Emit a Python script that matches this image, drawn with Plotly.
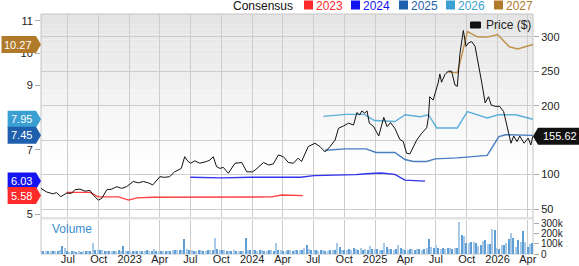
import plotly.graph_objects as go
import pandas as pd

# ---------------- data ----------------
price_dates = ["2022-04-12","2022-04-28","2022-05-18","2022-05-28","2022-06-10","2022-06-27","2022-07-12","2022-07-22",
 "2022-08-06","2022-08-21","2022-09-05","2022-09-15","2022-09-30","2022-10-10","2022-10-25","2022-11-09","2022-11-24",
 "2022-12-08","2022-12-23","2023-01-12","2023-01-27","2023-02-11","2023-02-26","2023-03-11","2023-04-01","2023-04-15",
 "2023-04-30","2023-05-15","2023-06-04","2023-06-14","2023-06-24","2023-07-02","2023-07-14","2023-07-29","2023-08-18",
 "2023-08-28","2023-09-07","2023-09-17","2023-09-27","2023-10-07","2023-10-22","2023-11-11","2023-12-01","2023-12-16",
 "2024-01-02","2024-01-10","2024-02-04","2024-02-19","2024-03-04","2024-03-19","2024-04-03","2024-04-18","2024-05-03",
 "2024-05-17","2024-05-27","2024-06-16","2024-07-06","2024-07-21","2024-08-05","2024-08-20","2024-09-04","2024-09-14",
 "2024-09-29","2024-10-14","2024-10-29","2024-11-08","2024-11-16","2024-11-23","2024-12-01","2024-12-08","2024-12-15",
 "2024-12-28","2025-01-12","2025-01-27","2025-02-06","2025-02-16","2025-03-01","2025-03-16","2025-03-26","2025-04-05",
 "2025-04-15","2025-04-25","2025-05-05","2025-05-20","2025-06-04","2025-06-09","2025-06-13","2025-06-23","2025-07-08",
 "2025-07-13","2025-07-18","2025-07-28","2025-08-07","2025-08-17","2025-08-27","2025-09-03","2025-09-11","2025-09-21",
 "2025-09-29","2025-10-06","2025-10-16","2025-10-26","2025-11-05","2025-11-15","2025-11-25","2025-12-05","2025-12-13",
 "2025-12-25","2026-01-07","2026-01-19","2026-02-03","2026-02-10","2026-02-18","2026-02-28","2026-03-08","2026-03-21",
 "2026-04-02","2026-04-10","2026-04-16"]
price_vals = [80,75,72,74,68,73,73,78,79,76,77,70,63,65.5,78,79,82.5,80,82.5,90,88,90,88,85,97,96,97,104,109,126,119,
 116.5,120,116.5,119,121,126,111.5,109,110.5,102,116.5,117.5,104,104,106.7,117.5,114,115.5,128.5,126,117.5,116.5,124,
 119,140.6,145.5,140.6,133,140.6,150,167,170.6,174.6,172,190,186.6,192.5,189,192.5,174.6,169.6,156,183,169.6,175.5,
 167,151,148,131,130,140.6,150,160,168,183,213,208,233,246,234,245,250,250,230,228,276,309,286,291,293,286,262,233,
 204,213,201,199,199,191.5,160,145.5,156,148,156,145.5,153,143,155.62]

eps2023_dates = ["2022-06-27","2022-09-05","2022-09-30","2022-11-29","2022-12-29","2023-01-23","2023-03-11","2023-09-30",
 "2023-12-29","2024-02-28","2024-03-29","2024-05-31"]
eps2023_vals = [5.68,5.68,5.54,5.54,5.44,5.51,5.53,5.53,5.54,5.54,5.60,5.58]

eps2024_dates = ["2023-07-01","2023-09-30","2023-12-29","2024-05-24","2024-07-03","2024-10-06","2024-11-05","2024-12-05",
 "2025-01-19","2025-03-01","2025-03-31","2025-05-30"]
eps2024_vals = [6.15,6.13,6.15,6.15,6.20,6.21,6.23,6.26,6.28,6.24,6.06,6.03]

eps2025_dates = ["2024-08-05","2024-10-06","2024-12-05","2025-01-04","2025-03-01","2025-03-31","2025-04-25","2025-06-04",
 "2025-06-29","2025-09-03","2025-12-01","2026-01-05","2026-01-25","2026-04-16"]
eps2025_vals = [6.99,7.03,7.03,6.92,6.92,6.70,6.64,6.64,6.72,6.75,6.83,7.41,7.47,7.45]

eps2026_dates = ["2024-07-31","2024-10-06","2024-11-30","2024-12-30","2025-03-01","2025-04-01","2025-05-15","2025-06-09",
 "2025-07-04","2025-09-03","2025-10-03","2025-12-01","2026-01-03","2026-02-24","2026-04-16"]
eps2026_vals = [8.04,8.10,8.10,7.91,7.88,8.09,8.03,8.09,7.68,7.68,8.19,7.99,8.09,8.09,7.95]

eps2027_dates = ["2025-08-02","2025-09-03","2025-09-18","2025-10-03","2025-11-02","2025-12-01","2026-01-01","2026-02-05",
 "2026-03-02","2026-04-16"]
eps2027_vals = [9.42,9.39,10.0,10.67,10.51,10.50,10.58,10.20,10.13,10.27]

volume_start = "2022-04-13"
volume_vals = [32,35,30,38,33,36,31,34,40,87,
 60,30,28,32,30,29,31,28,33,30,
 35,32,107,45,40,42,48,38,36,35,
 33,30,34,45,38,78,35,30,32,34,
 33,30,32,31,36,42,35,34,55,38,
 36,34,33,35,38,36,40,45,40,45,
 42,155,55,40,45,38,36,40,42,38,
 36,40,45,42,165,50,45,40,42,38,
 36,38,40,35,33,30,38,165,45,40,
 42,45,38,40,42,36,38,40,42,38,
 116,45,40,38,36,40,42,38,45,40,
 42,48,60,97,50,45,42,40,38,45,
 40,38,36,42,40,45,116,75,45,42,
 48,55,45,65,50,45,60,48,52,45,
 78,55,50,52,48,45,113,75,55,50,
 48,52,90,60,55,48,45,50,52,48,
 55,50,48,52,60,150,70,65,97,60,
 55,60,58,62,60,58,62,65,315,185,
 180,107,110,126,126,110,87,95,133,136,
 103,100,249,242,65,55,94,97,113,152,
 210,162,71,139,126,233,120,71,103,113]  # thousands

quarter_ticks = ["2022-07-01","2022-10-01","2023-01-01","2023-04-01","2023-07-01","2023-10-01","2024-01-01",
 "2024-04-01","2024-07-01","2024-10-01","2025-01-01","2025-04-01","2025-07-01","2025-10-01","2026-01-01","2026-04-01"]
quarter_labels = ["Jul","Oct","2023","Apr","Jul","Oct","2024","Apr","Jul","Oct","2025","Apr","Jul","Oct","2026","Apr"]

price_ticks = [50,100,150,200,250,300]
price_tick_labels = ["50","100","","200","250","300"]   # 150 sits under the price badge
eps_ticks = [5,6,7,8,9,10,11]
eps_tick_labels = ["5","","7","","9","10","11"]          # 6 and 8 sit under badges
volume_ticks = [0,100,200,300]
volume_labels = ["0","100k","200k","300k"]

series_names = ["2023","2024","2025","2026","2027"]
series_colors = ["#ff2020","#1010ee","#2a68b6","#40a4d6","#b8822e"]
badge_colors = ["#ff2a2a","#1414f0","#1f60ae","#3a9fd2","#b07a2a"]

# ---------------- layout geometry ----------------
W, H = 579, 266
ML, MR, MT, MB = 41, 46, 14, 12
PW, PH = W - ML - MR, H - MT - MB
def px(x): return (x - ML) / PW
def py(y): return (H - MB - y) / PH

FONT = "Liberation Sans, Arial, sans-serif"
GRID = "#cdcdcd"

fig = go.Figure()

eps_sets = [(eps2023_dates, eps2023_vals), (eps2024_dates, eps2024_vals), (eps2025_dates, eps2025_vals),
            (eps2026_dates, eps2026_vals), (eps2027_dates, eps2027_vals)]
for (d, v), name, col in zip(eps_sets, series_names, series_colors):
    fig.add_trace(go.Scatter(x=d, y=v, mode="lines", name=name, line=dict(color=col, width=1.4),
                             opacity=0.85, xaxis="x", yaxis="y", showlegend=False, hoverinfo="skip"))

fig.add_trace(go.Scatter(x=price_dates, y=price_vals, mode="lines", name="Price ($)",
                         line=dict(color="#111111", width=1), xaxis="x", yaxis="y2", showlegend=False))

vol_dates = pd.date_range(volume_start, periods=len(volume_vals), freq="7D")
vol_colors = ["#a9c9e8" if i % 2 == 0 else "#5f9fd6" for i in range(len(volume_vals))]
fig.add_trace(go.Bar(x=vol_dates, y=[v * 1000 for v in volume_vals], marker=dict(color=vol_colors, line=dict(width=0)),
                     width=4.2 * 86400000, xaxis="x2", yaxis="y3", showlegend=False))
# carrier for the date-label axis
fig.add_trace(go.Scatter(x=[], y=[], xaxis="x3", yaxis="y3", showlegend=False, hoverinfo="skip"))

xr = ["2022-04-12", "2026-04-16 12:00"]
tickfont = dict(family=FONT, size=11, color="#222222")
voltickfont = dict(family=FONT, size=10, color="#222222")

fig.update_layout(
    width=W, height=H, margin=dict(l=ML, r=MR, t=MT, b=MB),
    paper_bgcolor="white", plot_bgcolor="rgba(0,0,0,0)", showlegend=False, bargap=0,
    xaxis=dict(domain=[0, 1], anchor="y", range=xr, type="date", tickvals=quarter_ticks, showticklabels=False,
               showgrid=True, gridcolor=GRID, gridwidth=1, ticks="", zeroline=False, showline=False),
    xaxis2=dict(domain=[0, 1], anchor="y3", range=xr, type="date", tickvals=quarter_ticks,
                showticklabels=False, showgrid=True, gridcolor=GRID, ticks="",
                showline=False, zeroline=False, automargin=False),
    xaxis3=dict(overlaying="x2", anchor="free", position=py(251), range=xr, type="date", tickvals=quarter_ticks,
                ticktext=quarter_labels, showgrid=False, ticks="", tickfont=tickfont,
                showline=False, zeroline=False, automargin=False),
    yaxis=dict(domain=[py(217), 1], range=[4.916, 11.217], tickvals=eps_ticks, ticktext=eps_tick_labels,
               ticks="outside", ticklen=5, tickcolor="#aaaaaa", showgrid=False, zeroline=False,
               tickfont=tickfont, automargin=False),
    yaxis2=dict(overlaying="y", side="right", anchor="x", range=[38.5, 333], tickvals=price_ticks,
                ticktext=price_tick_labels, ticks="outside", ticklen=5, tickcolor="#aaaaaa", showgrid=True,
                gridcolor=GRID, zeroline=False, tickfont=tickfont, automargin=False),
    yaxis3=dict(domain=[0, py(219.5)], anchor="x2", side="right", range=[0, 335000],
                tickvals=[t * 1000 for t in volume_ticks], ticktext=volume_labels, ticks="outside", ticklen=5,
                tickcolor="#aaaaaa", showgrid=False, zeroline=False, tickfont=voltickfont, automargin=False),
)

shapes = []
# gradient background of main panel
N = 40
y_top, y_bot = 14, 217
for i in range(N):
    t = i / (N - 1)
    g = int(round(228 + (255 - 228) * min(1.0, t / 0.75)))
    ya = y_top + (y_bot - y_top) * i / N
    yb = y_top + (y_bot - y_top) * (i + 1) / N
    shapes.append(dict(type="rect", xref="paper", yref="paper", x0=0, x1=1, y0=py(yb), y1=py(ya),
                       fillcolor=f"rgb({g},{g},{g})", line=dict(width=0), layer="below"))
# separator band
shapes.append(dict(type="rect", xref="paper", yref="paper", x0=0, x1=1, y0=py(219.5), y1=py(217),
                   fillcolor="#e2e2e2", line=dict(width=0), layer="below"))
# frame
shapes.append(dict(type="rect", xref="paper", yref="paper", x0=0, x1=1, y0=0, y1=1,
                   line=dict(color="#c4c4c4", width=1), fillcolor="rgba(0,0,0,0)", layer="below"))

annotations = []
# left badges
for (d, v), col in zip(reversed(eps_sets), list(reversed(badge_colors))):
    last = v[-1]
    txt = f"{last:.2f}"
    tw = sum(3.06 if c == "." else 6.12 for c in txt)
    Wb = 8 + tw + 4
    path = f"M 0,0 L -5,8.5 L {-Wb:.1f},8.5 L {-Wb:.1f},-8.5 L -5,-8.5 Z"
    shapes.append(dict(type="path", xref="paper", yref="y", xsizemode="pixel", ysizemode="pixel",
                       xanchor=0, yanchor=last, path=path, fillcolor=col, line=dict(width=0), layer="above"))
    annotations.append(dict(x=0, xref="paper", y=last, yref="y", text=txt, showarrow=False, xanchor="right",
                            xshift=-7, yanchor="middle", font=dict(family=FONT, size=11, color="white")))
# right price badge
plast = price_vals[-1]
shapes.append(dict(type="path", xref="paper", yref="y2", xsizemode="pixel", ysizemode="pixel",
                   xanchor=1, yanchor=plast, path="M 0,0 L 5,8.5 L 60,8.5 L 60,-8.5 L 5,-8.5 Z",
                   fillcolor="#111111", line=dict(width=0), layer="above"))
annotations.append(dict(x=1, xref="paper", y=plast, yref="y2", text=f"{plast:.2f}", showarrow=False,
                        xanchor="left", xshift=8, yanchor="middle", font=dict(family=FONT, size=11, color="white")))

# top legend
annotations.append(dict(x=px(230.5), xref="paper", y=py(5.5), yref="paper", text="Consensus", showarrow=False,
                        xanchor="left", yanchor="middle", font=dict(family=FONT, size=12, color="#111111")))
sq_x = [304, 351, 399, 446, 494]
for name, col, sx in zip(series_names, badge_colors, sq_x):
    shapes.append(dict(type="rect", xref="paper", yref="paper", x0=px(sx), x1=px(sx + 9), y0=py(9.5), y1=py(0.5),
                       fillcolor=col, line=dict(width=0)))
    annotations.append(dict(x=px(sx + 10), xref="paper", y=py(5.5), yref="paper", text=name, showarrow=False,
                            xanchor="left", yanchor="middle", font=dict(family=FONT, size=12, color=col)))
# price legend
shapes.append(dict(type="rect", xref="paper", yref="paper", x0=px(470.5), x1=px(480.5), y0=py(28), y1=py(22),
                   fillcolor="#111111", line=dict(color="#111111", width=1)))
annotations.append(dict(x=px(484), xref="paper", y=py(25), yref="paper", text="Price ($)", showarrow=False,
                        xanchor="left", yanchor="middle", font=dict(family=FONT, size=12, color="#222222")))
# volume label
annotations.append(dict(x=px(50), xref="paper", y=py(229), yref="paper", text="Volume", showarrow=False,
                        xanchor="left", yanchor="middle", font=dict(family=FONT, size=12, color="#3d8fd1")))

fig.update_layout(shapes=shapes, annotations=annotations)
fig.write_html("out.html")
